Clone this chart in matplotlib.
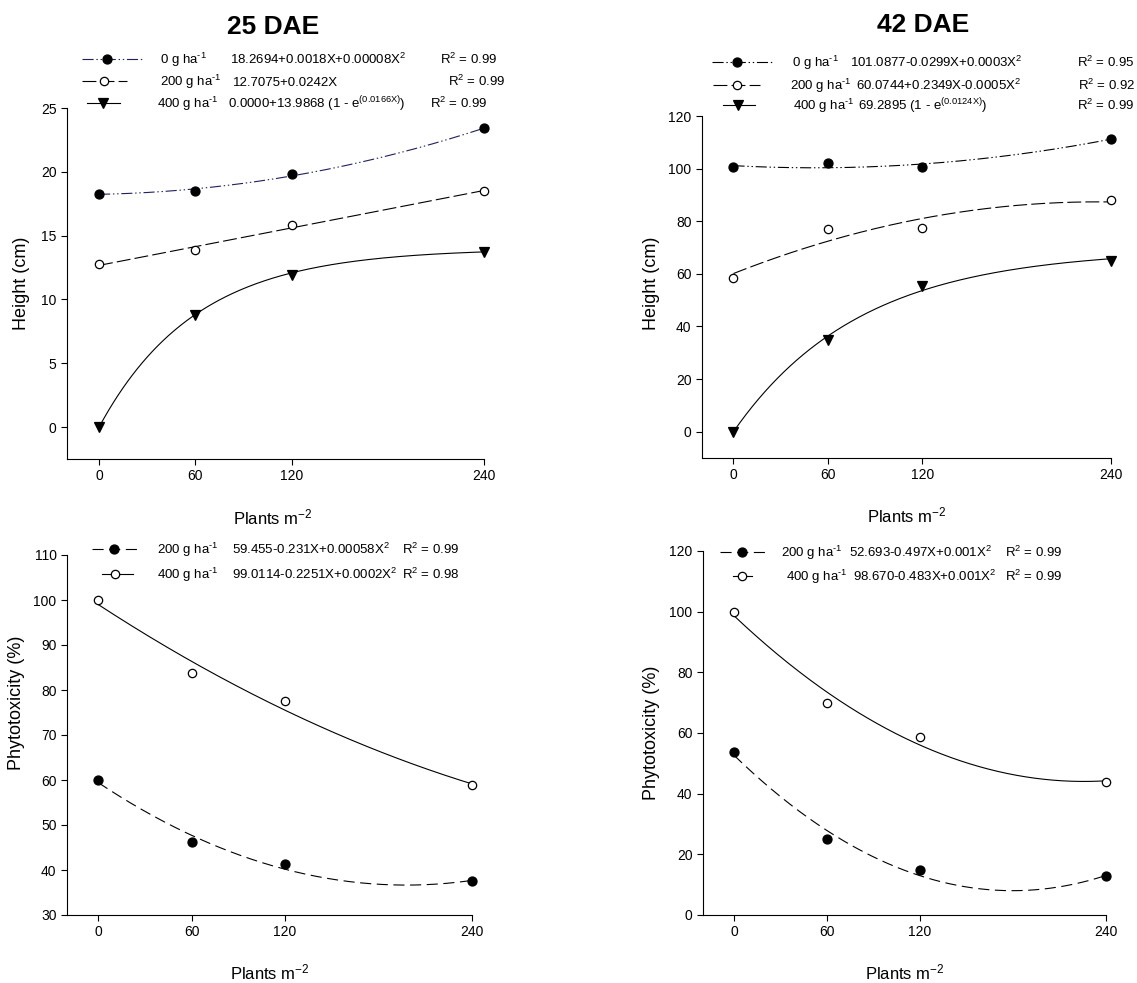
import numpy as np
import matplotlib
matplotlib.use('Agg')
import matplotlib.pyplot as plt
from matplotlib.lines import Line2D

W, H = 1137, 983
plt.rcParams['font.family'] = ['Liberation Sans', 'DejaVu Sans']
plt.rcParams['mathtext.fontset'] = 'custom'
plt.rcParams['mathtext.rm'] = 'Liberation Sans'
plt.rcParams['mathtext.it'] = 'Liberation Sans'
plt.rcParams['mathtext.bf'] = 'Liberation Sans:bold'
plt.rcParams['lines.scale_dashes'] = False

# plant density (plants m-2)
density = [0, 60, 120, 240]

# height (cm), 25 DAE
h25_0 = [18.3, 18.5, 19.8, 23.4]
h25_200 = [12.75, 13.9, 15.8, 18.5]
h25_400 = [0.0, 8.8, 11.9, 13.7]
# height (cm), 42 DAE
h42_0 = [100.5, 102.0, 100.5, 111.4]
h42_200 = [58.4, 77.0, 77.6, 87.9]
h42_400 = [0.0, 35.0, 55.2, 65.0]
# phytotoxicity (%)
p25_200 = [60.0, 46.2, 41.3, 37.5]
p25_400 = [100.0, 83.7, 77.5, 58.8]
p42_200 = [53.7, 25.1, 15.0, 12.7]
p42_400 = [100.0, 69.9, 58.7, 43.8]

# exponential fits printed on the chart: a * (1 - exp(-b X))
exp25_400 = (13.9868, 0.0166)
exp42_400 = (69.2895, 0.0124)

HA = ' g ha$^{\\text{-}1}$'
# legend texts
leg25 = [('0' + HA, '18.2694+0.0018X+0.00008X$^2$', 'R$^2$ = 0.99'),
         ('200' + HA, '12.7075+0.0242X', 'R$^2$ = 0.99'),
         ('400' + HA, '0.0000+13.9868 (1 - e$^{(0.0166X)}$)', 'R$^2$ = 0.99')]
leg42 = [('0' + HA, '101.0877-0.0299X+0.0003X$^2$', 'R$^2$ = 0.95'),
         ('200' + HA, '60.0744+0.2349X-0.0005X$^2$', 'R$^2$ = 0.92'),
         ('400' + HA, '69.2895 (1 - e$^{(0.0124X)}$)', 'R$^2$ = 0.99')]
legp25 = [('200' + HA, '59.455-0.231X+0.00058X$^2$', 'R$^2$ = 0.99'),
          ('400' + HA, '99.0114-0.2251X+0.0002X$^2$', 'R$^2$ = 0.98')]
legp42 = [('200' + HA, '52.693-0.497X+0.001X$^2$', 'R$^2$ = 0.99'),
          ('400' + HA, '98.670-0.483X+0.001X$^2$', 'R$^2$ = 0.99')]

DDOT = (0, (8, 2, 1, 2, 1, 2))
DASH = (0, (10, 3))
PDASH = (0, (8, 4))
NAVY = '#20205a'

styles = {
    '0': dict(ls=DDOT, marker='o', mfc='k', ms=6.5),
    '200': dict(ls=DASH, marker='o', mfc='white', ms=6),
    '400': dict(ls='-', marker='v', mfc='k', ms=6.5),
    'p200': dict(ls=PDASH, marker='o', mfc='k', ms=6.5),
    'p400': dict(ls='-', marker='o', mfc='white', ms=6),
}


def fx(x):
    return x / W


def fy(y):
    return 1 - y / H


def make_ax(fig, l, t, r, b):
    ax = fig.add_axes([fx(l), fy(b), (r - l) / W, (b - t) / H])
    ax.spines['top'].set_visible(False)
    ax.spines['right'].set_visible(False)
    ax.tick_params(direction='out', length=4, width=0.8, labelsize=10)
    ax.set_xlim(-20, 240)
    ax.set_xticks(density)
    return ax


def draw(ax, y, fit, style, color='k'):
    s = styles[style]
    xs = np.linspace(0, 240, 241)
    if fit == 'lin':
        ys = np.polyval(np.polyfit(density, y, 1), xs)
    elif fit == 'quad':
        ys = np.polyval(np.polyfit(density, y, 2), xs)
    else:
        a, k = fit
        ys = a * (1 - np.exp(-k * xs))
    ax.plot(xs, ys, color=color, lw=0.8, ls=s['ls'])
    ax.plot(density, y, ls='none', marker=s['marker'], ms=s['ms'],
            mfc=s['mfc'], mec='k', mew=0.9, clip_on=False, zorder=5)


def legend_row(fig, style, x0, x1, xm, y, texts, xs, color='k'):
    s = styles[style]
    fig.add_artist(Line2D([fx(x0), fx(x1)], [fy(y), fy(y)], color=color,
                          lw=0.8, ls=s['ls'], transform=fig.transFigure))
    fig.add_artist(Line2D([fx(xm)], [fy(y)], ls='none', marker=s['marker'],
                          ms=s['ms'], mfc=s['mfc'], mec='k', mew=0.9,
                          transform=fig.transFigure))
    for t, x in zip(texts, xs):
        fig.text(fx(x), fy(y + 5), t, fontsize=9.5, ha='left', va='baseline')


fig = plt.figure(figsize=(W / 100, H / 100), dpi=100)

# 25 DAE height
ax1 = make_ax(fig, 67, 108, 484, 459)
ax1.set_ylim(-2.5, 25)
ax1.set_yticks(range(0, 26, 5))
draw(ax1, h25_0, 'quad', '0', NAVY)
draw(ax1, h25_200, 'lin', '200')
draw(ax1, h25_400, exp25_400, '400')

# 42 DAE height
ax2 = make_ax(fig, 702, 116, 1111, 458)
ax2.set_ylim(-10, 120)
ax2.set_yticks(range(0, 121, 20))
draw(ax2, h42_0, 'quad', '0')
draw(ax2, h42_200, 'quad', '200')
draw(ax2, h42_400, exp42_400, '400')

# 25 DAE phytotoxicity
ax3 = make_ax(fig, 67, 555, 472, 915)
ax3.set_ylim(30, 110)
ax3.set_yticks(range(30, 111, 10))
draw(ax3, p25_200, 'quad', 'p200')
draw(ax3, p25_400, 'quad', 'p400')

# 42 DAE phytotoxicity
ax4 = make_ax(fig, 703, 551, 1106, 915)
ax4.set_ylim(0, 120)
ax4.set_yticks(range(0, 121, 20))
draw(ax4, p42_200, 'quad', 'p200')
draw(ax4, p42_400, 'quad', 'p400')

# titles and axis labels
fig.text(fx(273), fy(27), '25 DAE', fontsize=19, fontweight='bold', ha='center', va='center')
fig.text(fx(923), fy(25), '42 DAE', fontsize=19, fontweight='bold', ha='center', va='center')
fig.text(fx(22), fy(283), 'Height (cm)', fontsize=13, rotation=90, ha='center', va='center')
fig.text(fx(652), fy(283), 'Height (cm)', fontsize=13, rotation=90, ha='center', va='center')
fig.text(fx(17), fy(703), 'Phytotoxicity (%)', fontsize=13, rotation=90, ha='center', va='center')
fig.text(fx(652), fy(733), 'Phytotoxicity (%)', fontsize=13, rotation=90, ha='center', va='center')
fig.text(fx(273), fy(517), 'Plants m$^{-2}$', fontsize=12, ha='center', va='center')
fig.text(fx(907), fy(515), 'Plants m$^{-2}$', fontsize=12, ha='center', va='center')
fig.text(fx(270), fy(972), 'Plants m$^{-2}$', fontsize=12, ha='center', va='center')
fig.text(fx(905), fy(972), 'Plants m$^{-2}$', fontsize=12, ha='center', va='center')

# legends
legend_row(fig, '0', 82, 142, 107, 59, leg25[0], [160, 230, 440], NAVY)
legend_row(fig, '200', 82, 127, 104, 81, leg25[1], [160, 233, 448])
legend_row(fig, '400', 87, 120, 103, 103, leg25[2], [157, 228, 430])

legend_row(fig, '0', 712, 772, 737, 62, leg42[0], [792, 850, 1077])
legend_row(fig, '200', 713, 760, 737, 85, leg42[1], [790, 856, 1078])
legend_row(fig, '400', 723, 755, 738, 105, leg42[2], [793, 858, 1077])

legend_row(fig, 'p200', 92, 137, 114, 549, legp25[0], [157, 232, 402])
legend_row(fig, 'p400', 102, 133, 115, 574, legp25[1], [157, 232, 402])

legend_row(fig, 'p200', 720, 766, 742, 552, legp42[0], [781, 849, 1005])
legend_row(fig, 'p400', 733, 752, 742, 576, legp42[1], [786, 853, 1005])

fig.savefig('out.png', dpi=100)
